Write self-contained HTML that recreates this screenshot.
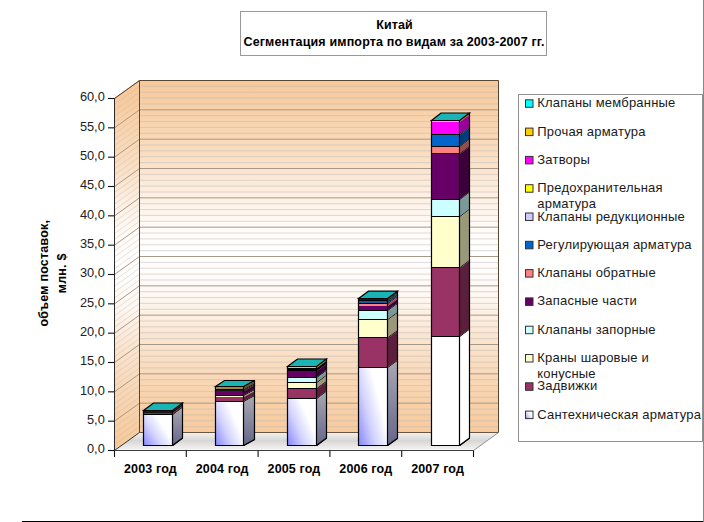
<!DOCTYPE html><html><head><meta charset="utf-8"><style>
html,body{margin:0;padding:0;background:#fff;width:704px;height:522px;overflow:hidden}
svg{display:block;font-family:"Liberation Sans",sans-serif}
</style></head><body>
<svg width="704" height="522" viewBox="0 0 704 522">
<defs>
<linearGradient id="wall" gradientUnits="userSpaceOnUse" x1="0" y1="80" x2="0" y2="432"><stop offset="0" stop-color="#F8C898"/><stop offset="0.2" stop-color="#FADCBE"/><stop offset="0.33" stop-color="#FDF0E4"/><stop offset="0.42" stop-color="#FFFBF7"/><stop offset="0.5" stop-color="#FFFFFF"/><stop offset="0.62" stop-color="#FEF7F0"/><stop offset="0.72" stop-color="#FBE6D2"/><stop offset="0.85" stop-color="#F9D7B6"/><stop offset="1" stop-color="#F8CA9A"/></linearGradient>
<linearGradient id="lwall" gradientUnits="userSpaceOnUse" x1="0" y1="89" x2="0" y2="441"><stop offset="0" stop-color="#F8C898"/><stop offset="0.2" stop-color="#FADCBE"/><stop offset="0.33" stop-color="#FDF0E4"/><stop offset="0.42" stop-color="#FFFBF7"/><stop offset="0.5" stop-color="#FFFFFF"/><stop offset="0.62" stop-color="#FEF7F0"/><stop offset="0.72" stop-color="#FBE6D2"/><stop offset="0.85" stop-color="#F9D7B6"/><stop offset="1" stop-color="#F8CA9A"/></linearGradient>
<linearGradient id="floor" gradientUnits="userSpaceOnUse" x1="0" y1="432" x2="0" y2="451"><stop offset="0" stop-color="#F4F4F4"/><stop offset="0.45" stop-color="#D8D6D4"/><stop offset="1" stop-color="#F8F8F8"/></linearGradient>
<linearGradient id="sfront" x1="0" y1="1" x2="0.9" y2="0.4"><stop offset="0" stop-color="#8484FF"/><stop offset="0.45" stop-color="#D2D2FF"/><stop offset="0.85" stop-color="#FFFFFF"/><stop offset="1" stop-color="#FFFFFF"/></linearGradient>
<linearGradient id="sside" x1="0" y1="0" x2="0" y2="1"><stop offset="0" stop-color="#A8A8B4"/><stop offset="1" stop-color="#66668A"/></linearGradient>
</defs>
<rect x="0" y="0" width="704" height="522" fill="#fff"/>
<rect x="240.5" y="11.5" width="306" height="44" fill="#fff" stroke="#989898" stroke-width="1"/>
<text x="394.5" y="28.7" text-anchor="middle" font-size="12.5" font-weight="bold" letter-spacing="0.1" fill="#000">Китай</text>
<text x="394" y="46.1" text-anchor="middle" font-size="12.5" font-weight="bold" letter-spacing="0.15" fill="#000">Сегментация импорта по видам за 2003-2007 гг.</text>
<polygon points="114.5,450.5 114.5,98.5 139.5,80.5 139.5,432.5" fill="url(#lwall)"/>
<rect x="139.5" y="80.5" width="359.0" height="352.0" fill="url(#wall)"/>
<polygon points="114.5,450.5 139.5,432.5 498.5,432.5 473.5,450.5" fill="url(#floor)"/>
<line x1="139.5" y1="426.63" x2="498.5" y2="426.63" stroke="rgba(185,185,185,0.5)" stroke-width="1"/><line x1="114.5" y1="444.63" x2="139.5" y2="426.63" stroke="rgba(185,185,185,0.4)" stroke-width="1"/><line x1="139.5" y1="420.77" x2="498.5" y2="420.77" stroke="rgba(185,185,185,0.5)" stroke-width="1"/><line x1="114.5" y1="438.77" x2="139.5" y2="420.77" stroke="rgba(185,185,185,0.4)" stroke-width="1"/><line x1="139.5" y1="414.90" x2="498.5" y2="414.90" stroke="rgba(185,185,185,0.5)" stroke-width="1"/><line x1="114.5" y1="432.90" x2="139.5" y2="414.90" stroke="rgba(185,185,185,0.4)" stroke-width="1"/><line x1="139.5" y1="409.03" x2="498.5" y2="409.03" stroke="rgba(185,185,185,0.5)" stroke-width="1"/><line x1="114.5" y1="427.03" x2="139.5" y2="409.03" stroke="rgba(185,185,185,0.4)" stroke-width="1"/><line x1="139.5" y1="403.17" x2="498.5" y2="403.17" stroke="#A89888" stroke-width="1"/><line x1="114.5" y1="421.17" x2="139.5" y2="403.17" stroke="#A89888" stroke-width="1"/><line x1="139.5" y1="397.30" x2="498.5" y2="397.30" stroke="rgba(185,185,185,0.5)" stroke-width="1"/><line x1="114.5" y1="415.30" x2="139.5" y2="397.30" stroke="rgba(185,185,185,0.4)" stroke-width="1"/><line x1="139.5" y1="391.43" x2="498.5" y2="391.43" stroke="rgba(185,185,185,0.5)" stroke-width="1"/><line x1="114.5" y1="409.43" x2="139.5" y2="391.43" stroke="rgba(185,185,185,0.4)" stroke-width="1"/><line x1="139.5" y1="385.57" x2="498.5" y2="385.57" stroke="rgba(185,185,185,0.5)" stroke-width="1"/><line x1="114.5" y1="403.57" x2="139.5" y2="385.57" stroke="rgba(185,185,185,0.4)" stroke-width="1"/><line x1="139.5" y1="379.70" x2="498.5" y2="379.70" stroke="rgba(185,185,185,0.5)" stroke-width="1"/><line x1="114.5" y1="397.70" x2="139.5" y2="379.70" stroke="rgba(185,185,185,0.4)" stroke-width="1"/><line x1="139.5" y1="373.83" x2="498.5" y2="373.83" stroke="#A89888" stroke-width="1"/><line x1="114.5" y1="391.83" x2="139.5" y2="373.83" stroke="#A89888" stroke-width="1"/><line x1="139.5" y1="367.97" x2="498.5" y2="367.97" stroke="rgba(185,185,185,0.5)" stroke-width="1"/><line x1="114.5" y1="385.97" x2="139.5" y2="367.97" stroke="rgba(185,185,185,0.4)" stroke-width="1"/><line x1="139.5" y1="362.10" x2="498.5" y2="362.10" stroke="rgba(185,185,185,0.5)" stroke-width="1"/><line x1="114.5" y1="380.10" x2="139.5" y2="362.10" stroke="rgba(185,185,185,0.4)" stroke-width="1"/><line x1="139.5" y1="356.23" x2="498.5" y2="356.23" stroke="rgba(185,185,185,0.5)" stroke-width="1"/><line x1="114.5" y1="374.23" x2="139.5" y2="356.23" stroke="rgba(185,185,185,0.4)" stroke-width="1"/><line x1="139.5" y1="350.37" x2="498.5" y2="350.37" stroke="rgba(185,185,185,0.5)" stroke-width="1"/><line x1="114.5" y1="368.37" x2="139.5" y2="350.37" stroke="rgba(185,185,185,0.4)" stroke-width="1"/><line x1="139.5" y1="344.50" x2="498.5" y2="344.50" stroke="#A89888" stroke-width="1"/><line x1="114.5" y1="362.50" x2="139.5" y2="344.50" stroke="#A89888" stroke-width="1"/><line x1="139.5" y1="338.63" x2="498.5" y2="338.63" stroke="rgba(185,185,185,0.5)" stroke-width="1"/><line x1="114.5" y1="356.63" x2="139.5" y2="338.63" stroke="rgba(185,185,185,0.4)" stroke-width="1"/><line x1="139.5" y1="332.77" x2="498.5" y2="332.77" stroke="rgba(185,185,185,0.5)" stroke-width="1"/><line x1="114.5" y1="350.77" x2="139.5" y2="332.77" stroke="rgba(185,185,185,0.4)" stroke-width="1"/><line x1="139.5" y1="326.90" x2="498.5" y2="326.90" stroke="rgba(185,185,185,0.5)" stroke-width="1"/><line x1="114.5" y1="344.90" x2="139.5" y2="326.90" stroke="rgba(185,185,185,0.4)" stroke-width="1"/><line x1="139.5" y1="321.03" x2="498.5" y2="321.03" stroke="rgba(185,185,185,0.5)" stroke-width="1"/><line x1="114.5" y1="339.03" x2="139.5" y2="321.03" stroke="rgba(185,185,185,0.4)" stroke-width="1"/><line x1="139.5" y1="315.17" x2="498.5" y2="315.17" stroke="#A89888" stroke-width="1"/><line x1="114.5" y1="333.17" x2="139.5" y2="315.17" stroke="#A89888" stroke-width="1"/><line x1="139.5" y1="309.30" x2="498.5" y2="309.30" stroke="rgba(185,185,185,0.5)" stroke-width="1"/><line x1="114.5" y1="327.30" x2="139.5" y2="309.30" stroke="rgba(185,185,185,0.4)" stroke-width="1"/><line x1="139.5" y1="303.43" x2="498.5" y2="303.43" stroke="rgba(185,185,185,0.5)" stroke-width="1"/><line x1="114.5" y1="321.43" x2="139.5" y2="303.43" stroke="rgba(185,185,185,0.4)" stroke-width="1"/><line x1="139.5" y1="297.57" x2="498.5" y2="297.57" stroke="rgba(185,185,185,0.5)" stroke-width="1"/><line x1="114.5" y1="315.57" x2="139.5" y2="297.57" stroke="rgba(185,185,185,0.4)" stroke-width="1"/><line x1="139.5" y1="291.70" x2="498.5" y2="291.70" stroke="rgba(185,185,185,0.5)" stroke-width="1"/><line x1="114.5" y1="309.70" x2="139.5" y2="291.70" stroke="rgba(185,185,185,0.4)" stroke-width="1"/><line x1="139.5" y1="285.83" x2="498.5" y2="285.83" stroke="#A89888" stroke-width="1"/><line x1="114.5" y1="303.83" x2="139.5" y2="285.83" stroke="#A89888" stroke-width="1"/><line x1="139.5" y1="279.97" x2="498.5" y2="279.97" stroke="rgba(185,185,185,0.5)" stroke-width="1"/><line x1="114.5" y1="297.97" x2="139.5" y2="279.97" stroke="rgba(185,185,185,0.4)" stroke-width="1"/><line x1="139.5" y1="274.10" x2="498.5" y2="274.10" stroke="rgba(185,185,185,0.5)" stroke-width="1"/><line x1="114.5" y1="292.10" x2="139.5" y2="274.10" stroke="rgba(185,185,185,0.4)" stroke-width="1"/><line x1="139.5" y1="268.23" x2="498.5" y2="268.23" stroke="rgba(185,185,185,0.5)" stroke-width="1"/><line x1="114.5" y1="286.23" x2="139.5" y2="268.23" stroke="rgba(185,185,185,0.4)" stroke-width="1"/><line x1="139.5" y1="262.37" x2="498.5" y2="262.37" stroke="rgba(185,185,185,0.5)" stroke-width="1"/><line x1="114.5" y1="280.37" x2="139.5" y2="262.37" stroke="rgba(185,185,185,0.4)" stroke-width="1"/><line x1="139.5" y1="256.50" x2="498.5" y2="256.50" stroke="#A89888" stroke-width="1"/><line x1="114.5" y1="274.50" x2="139.5" y2="256.50" stroke="#A89888" stroke-width="1"/><line x1="139.5" y1="250.63" x2="498.5" y2="250.63" stroke="rgba(185,185,185,0.5)" stroke-width="1"/><line x1="114.5" y1="268.63" x2="139.5" y2="250.63" stroke="rgba(185,185,185,0.4)" stroke-width="1"/><line x1="139.5" y1="244.77" x2="498.5" y2="244.77" stroke="rgba(185,185,185,0.5)" stroke-width="1"/><line x1="114.5" y1="262.77" x2="139.5" y2="244.77" stroke="rgba(185,185,185,0.4)" stroke-width="1"/><line x1="139.5" y1="238.90" x2="498.5" y2="238.90" stroke="rgba(185,185,185,0.5)" stroke-width="1"/><line x1="114.5" y1="256.90" x2="139.5" y2="238.90" stroke="rgba(185,185,185,0.4)" stroke-width="1"/><line x1="139.5" y1="233.03" x2="498.5" y2="233.03" stroke="rgba(185,185,185,0.5)" stroke-width="1"/><line x1="114.5" y1="251.03" x2="139.5" y2="233.03" stroke="rgba(185,185,185,0.4)" stroke-width="1"/><line x1="139.5" y1="227.17" x2="498.5" y2="227.17" stroke="#A89888" stroke-width="1"/><line x1="114.5" y1="245.17" x2="139.5" y2="227.17" stroke="#A89888" stroke-width="1"/><line x1="139.5" y1="221.30" x2="498.5" y2="221.30" stroke="rgba(185,185,185,0.5)" stroke-width="1"/><line x1="114.5" y1="239.30" x2="139.5" y2="221.30" stroke="rgba(185,185,185,0.4)" stroke-width="1"/><line x1="139.5" y1="215.43" x2="498.5" y2="215.43" stroke="rgba(185,185,185,0.5)" stroke-width="1"/><line x1="114.5" y1="233.43" x2="139.5" y2="215.43" stroke="rgba(185,185,185,0.4)" stroke-width="1"/><line x1="139.5" y1="209.57" x2="498.5" y2="209.57" stroke="rgba(185,185,185,0.5)" stroke-width="1"/><line x1="114.5" y1="227.57" x2="139.5" y2="209.57" stroke="rgba(185,185,185,0.4)" stroke-width="1"/><line x1="139.5" y1="203.70" x2="498.5" y2="203.70" stroke="rgba(185,185,185,0.5)" stroke-width="1"/><line x1="114.5" y1="221.70" x2="139.5" y2="203.70" stroke="rgba(185,185,185,0.4)" stroke-width="1"/><line x1="139.5" y1="197.83" x2="498.5" y2="197.83" stroke="#A89888" stroke-width="1"/><line x1="114.5" y1="215.83" x2="139.5" y2="197.83" stroke="#A89888" stroke-width="1"/><line x1="139.5" y1="191.97" x2="498.5" y2="191.97" stroke="rgba(185,185,185,0.5)" stroke-width="1"/><line x1="114.5" y1="209.97" x2="139.5" y2="191.97" stroke="rgba(185,185,185,0.4)" stroke-width="1"/><line x1="139.5" y1="186.10" x2="498.5" y2="186.10" stroke="rgba(185,185,185,0.5)" stroke-width="1"/><line x1="114.5" y1="204.10" x2="139.5" y2="186.10" stroke="rgba(185,185,185,0.4)" stroke-width="1"/><line x1="139.5" y1="180.23" x2="498.5" y2="180.23" stroke="rgba(185,185,185,0.5)" stroke-width="1"/><line x1="114.5" y1="198.23" x2="139.5" y2="180.23" stroke="rgba(185,185,185,0.4)" stroke-width="1"/><line x1="139.5" y1="174.37" x2="498.5" y2="174.37" stroke="rgba(185,185,185,0.5)" stroke-width="1"/><line x1="114.5" y1="192.37" x2="139.5" y2="174.37" stroke="rgba(185,185,185,0.4)" stroke-width="1"/><line x1="139.5" y1="168.50" x2="498.5" y2="168.50" stroke="#A89888" stroke-width="1"/><line x1="114.5" y1="186.50" x2="139.5" y2="168.50" stroke="#A89888" stroke-width="1"/><line x1="139.5" y1="162.63" x2="498.5" y2="162.63" stroke="rgba(185,185,185,0.5)" stroke-width="1"/><line x1="114.5" y1="180.63" x2="139.5" y2="162.63" stroke="rgba(185,185,185,0.4)" stroke-width="1"/><line x1="139.5" y1="156.77" x2="498.5" y2="156.77" stroke="rgba(185,185,185,0.5)" stroke-width="1"/><line x1="114.5" y1="174.77" x2="139.5" y2="156.77" stroke="rgba(185,185,185,0.4)" stroke-width="1"/><line x1="139.5" y1="150.90" x2="498.5" y2="150.90" stroke="rgba(185,185,185,0.5)" stroke-width="1"/><line x1="114.5" y1="168.90" x2="139.5" y2="150.90" stroke="rgba(185,185,185,0.4)" stroke-width="1"/><line x1="139.5" y1="145.03" x2="498.5" y2="145.03" stroke="rgba(185,185,185,0.5)" stroke-width="1"/><line x1="114.5" y1="163.03" x2="139.5" y2="145.03" stroke="rgba(185,185,185,0.4)" stroke-width="1"/><line x1="139.5" y1="139.17" x2="498.5" y2="139.17" stroke="#A89888" stroke-width="1"/><line x1="114.5" y1="157.17" x2="139.5" y2="139.17" stroke="#A89888" stroke-width="1"/><line x1="139.5" y1="133.30" x2="498.5" y2="133.30" stroke="rgba(185,185,185,0.5)" stroke-width="1"/><line x1="114.5" y1="151.30" x2="139.5" y2="133.30" stroke="rgba(185,185,185,0.4)" stroke-width="1"/><line x1="139.5" y1="127.43" x2="498.5" y2="127.43" stroke="rgba(185,185,185,0.5)" stroke-width="1"/><line x1="114.5" y1="145.43" x2="139.5" y2="127.43" stroke="rgba(185,185,185,0.4)" stroke-width="1"/><line x1="139.5" y1="121.57" x2="498.5" y2="121.57" stroke="rgba(185,185,185,0.5)" stroke-width="1"/><line x1="114.5" y1="139.57" x2="139.5" y2="121.57" stroke="rgba(185,185,185,0.4)" stroke-width="1"/><line x1="139.5" y1="115.70" x2="498.5" y2="115.70" stroke="rgba(185,185,185,0.5)" stroke-width="1"/><line x1="114.5" y1="133.70" x2="139.5" y2="115.70" stroke="rgba(185,185,185,0.4)" stroke-width="1"/><line x1="139.5" y1="109.83" x2="498.5" y2="109.83" stroke="#A89888" stroke-width="1"/><line x1="114.5" y1="127.83" x2="139.5" y2="109.83" stroke="#A89888" stroke-width="1"/><line x1="139.5" y1="103.97" x2="498.5" y2="103.97" stroke="rgba(185,185,185,0.5)" stroke-width="1"/><line x1="114.5" y1="121.97" x2="139.5" y2="103.97" stroke="rgba(185,185,185,0.4)" stroke-width="1"/><line x1="139.5" y1="98.10" x2="498.5" y2="98.10" stroke="rgba(185,185,185,0.5)" stroke-width="1"/><line x1="114.5" y1="116.10" x2="139.5" y2="98.10" stroke="rgba(185,185,185,0.4)" stroke-width="1"/><line x1="139.5" y1="92.23" x2="498.5" y2="92.23" stroke="rgba(185,185,185,0.5)" stroke-width="1"/><line x1="114.5" y1="110.23" x2="139.5" y2="92.23" stroke="rgba(185,185,185,0.4)" stroke-width="1"/><line x1="139.5" y1="86.37" x2="498.5" y2="86.37" stroke="rgba(185,185,185,0.5)" stroke-width="1"/><line x1="114.5" y1="104.37" x2="139.5" y2="86.37" stroke="rgba(185,185,185,0.4)" stroke-width="1"/><line x1="139.5" y1="80.50" x2="498.5" y2="80.50" stroke="#A89888" stroke-width="1"/><line x1="114.5" y1="98.50" x2="139.5" y2="80.50" stroke="#A89888" stroke-width="1"/>
<polyline points="114.5,450.5 114.5,98.5 139.5,80.5 498.5,80.5 498.5,432.5" fill="none" stroke="#5A4634" stroke-width="1"/>
<line x1="139.5" y1="80.5" x2="139.5" y2="432.5" stroke="#5A4634" stroke-width="1"/>
<line x1="139.5" y1="432.5" x2="498.5" y2="432.5" stroke="#6A5644" stroke-width="1"/>
<line x1="114.5" y1="450.5" x2="139.5" y2="432.5" stroke="#333" stroke-width="1"/>
<line x1="498.5" y1="432.5" x2="473.5" y2="450.5" stroke="#909090" stroke-width="1"/>
<line x1="114.5" y1="450.5" x2="473.5" y2="450.5" stroke="#404040" stroke-width="1"/>
<line x1="114.5" y1="98.5" x2="114.5" y2="450.5" stroke="#2A2A2A" stroke-width="1"/>
<line x1="108" y1="450.50" x2="114.5" y2="450.50" stroke="#111" stroke-width="1.1"/><text x="104.8" y="453.40" text-anchor="end" font-size="12.8" letter-spacing="0" fill="#222">0,0</text><line x1="108" y1="421.17" x2="114.5" y2="421.17" stroke="#111" stroke-width="1.1"/><text x="104.8" y="424.07" text-anchor="end" font-size="12.8" letter-spacing="0" fill="#222">5,0</text><line x1="108" y1="391.83" x2="114.5" y2="391.83" stroke="#111" stroke-width="1.1"/><text x="104.8" y="394.73" text-anchor="end" font-size="12.8" letter-spacing="0" fill="#222">10,0</text><line x1="108" y1="362.50" x2="114.5" y2="362.50" stroke="#111" stroke-width="1.1"/><text x="104.8" y="365.40" text-anchor="end" font-size="12.8" letter-spacing="0" fill="#222">15,0</text><line x1="108" y1="333.17" x2="114.5" y2="333.17" stroke="#111" stroke-width="1.1"/><text x="104.8" y="336.07" text-anchor="end" font-size="12.8" letter-spacing="0" fill="#222">20,0</text><line x1="108" y1="303.83" x2="114.5" y2="303.83" stroke="#111" stroke-width="1.1"/><text x="104.8" y="306.73" text-anchor="end" font-size="12.8" letter-spacing="0" fill="#222">25,0</text><line x1="108" y1="274.50" x2="114.5" y2="274.50" stroke="#111" stroke-width="1.1"/><text x="104.8" y="277.40" text-anchor="end" font-size="12.8" letter-spacing="0" fill="#222">30,0</text><line x1="108" y1="245.17" x2="114.5" y2="245.17" stroke="#111" stroke-width="1.1"/><text x="104.8" y="248.07" text-anchor="end" font-size="12.8" letter-spacing="0" fill="#222">35,0</text><line x1="108" y1="215.83" x2="114.5" y2="215.83" stroke="#111" stroke-width="1.1"/><text x="104.8" y="218.73" text-anchor="end" font-size="12.8" letter-spacing="0" fill="#222">40,0</text><line x1="108" y1="186.50" x2="114.5" y2="186.50" stroke="#111" stroke-width="1.1"/><text x="104.8" y="189.40" text-anchor="end" font-size="12.8" letter-spacing="0" fill="#222">45,0</text><line x1="108" y1="157.17" x2="114.5" y2="157.17" stroke="#111" stroke-width="1.1"/><text x="104.8" y="160.07" text-anchor="end" font-size="12.8" letter-spacing="0" fill="#222">50,0</text><line x1="108" y1="127.83" x2="114.5" y2="127.83" stroke="#111" stroke-width="1.1"/><text x="104.8" y="130.73" text-anchor="end" font-size="12.8" letter-spacing="0" fill="#222">55,0</text><line x1="108" y1="98.50" x2="114.5" y2="98.50" stroke="#111" stroke-width="1.1"/><text x="104.8" y="101.40" text-anchor="end" font-size="12.8" letter-spacing="0" fill="#222">60,0</text>
<line x1="114.50" y1="450.5" x2="114.50" y2="457" stroke="#111" stroke-width="1.1"/>
<line x1="186.30" y1="450.5" x2="186.30" y2="457" stroke="#111" stroke-width="1.1"/>
<line x1="258.10" y1="450.5" x2="258.10" y2="457" stroke="#111" stroke-width="1.1"/>
<line x1="329.90" y1="450.5" x2="329.90" y2="457" stroke="#111" stroke-width="1.1"/>
<line x1="401.70" y1="450.5" x2="401.70" y2="457" stroke="#111" stroke-width="1.1"/>
<line x1="473.50" y1="450.5" x2="473.50" y2="457" stroke="#111" stroke-width="1.1"/>
<text x="150.40" y="472.7" text-anchor="middle" font-size="12.5" font-weight="bold" letter-spacing="0.15" fill="#000">2003 год</text>
<text x="222.20" y="472.7" text-anchor="middle" font-size="12.5" font-weight="bold" letter-spacing="0.15" fill="#000">2004 год</text>
<text x="294.00" y="472.7" text-anchor="middle" font-size="12.5" font-weight="bold" letter-spacing="0.15" fill="#000">2005 год</text>
<text x="365.80" y="472.7" text-anchor="middle" font-size="12.5" font-weight="bold" letter-spacing="0.15" fill="#000">2006 год</text>
<text x="437.60" y="472.7" text-anchor="middle" font-size="12.5" font-weight="bold" letter-spacing="0.15" fill="#000">2007 год</text>
<rect x="143" y="410" width="30" height="1" fill="#000000"/><polygon points="173,410 183,402.5 183,403.5 173,411" fill="#000000"/><rect x="143" y="411" width="30" height="2" fill="#1A1A1A"/><polygon points="173,411 183,403.5 183,405.5 173,413" fill="#0F0F0F"/><rect x="143" y="413" width="30" height="1" fill="#7A2850"/><polygon points="173,413 183,405.5 183,406.5 173,414" fill="#491830"/><rect x="143" y="414" width="30" height="1" fill="#000000"/><polygon points="173,414 183,406.5 183,407.5 173,415" fill="#000000"/><rect x="143" y="415" width="30" height="30" fill="url(#sfront)"/><polygon points="173,415 183,407.5 183,437.5 173,445" fill="url(#sside)"/><rect x="143" y="445" width="30" height="1" fill="#000000"/><polygon points="173,445 183,437.5 183,438.5 173,446" fill="#000000"/><polygon points="143.5,410.5 153.5,403.0 182.5,403.0 172.5,410.5" fill="#1AB4B4" stroke="#000" stroke-width="1.2" stroke-linejoin="miter"/><path d="M143.5,410 V446 M172.5,410 V446 M182.5,402.5 V438.0 L172.5,445.5" fill="none" stroke="#000" stroke-width="1.2"/>
<rect x="215" y="386" width="29" height="1" fill="#000000"/><polygon points="244,386 255,380.0 255,381.0 244,387" fill="#000000"/><rect x="215" y="387" width="29" height="2" fill="#A08C38"/><polygon points="244,387 255,381.0 255,383.0 244,389" fill="#605421"/><rect x="215" y="389" width="29" height="1" fill="#000000"/><polygon points="244,389 255,383.0 255,384.0 244,390" fill="#000000"/><rect x="215" y="390" width="29" height="1" fill="#1A1A1A"/><polygon points="244,390 255,384.0 255,385.0 244,391" fill="#0F0F0F"/><rect x="215" y="391" width="29" height="4" fill="#660066"/><polygon points="244,391 255,385.0 255,389.0 244,395" fill="#3D003D"/><rect x="215" y="395" width="29" height="1" fill="#000000"/><polygon points="244,395 255,389.0 255,390.0 244,396" fill="#000000"/><rect x="215" y="396" width="29" height="1" fill="#FFFFCC"/><polygon points="244,396 255,390.0 255,391.0 244,397" fill="#99997A"/><rect x="215" y="397" width="29" height="4" fill="#993366"/><polygon points="244,397 255,391.0 255,395.0 244,401" fill="#5B1E3D"/><rect x="215" y="401" width="29" height="1" fill="#000000"/><polygon points="244,401 255,395.0 255,396.0 244,402" fill="#000000"/><rect x="215" y="402" width="29" height="43" fill="url(#sfront)"/><polygon points="244,402 255,396.0 255,439.0 244,445" fill="url(#sside)"/><rect x="215" y="445" width="29" height="1" fill="#000000"/><polygon points="244,445 255,439.0 255,440.0 244,446" fill="#000000"/><polygon points="215.5,386.5 224.5,380.5 254.5,380.5 243.5,386.5" fill="#1AB4B4" stroke="#000" stroke-width="1.2" stroke-linejoin="miter"/><path d="M215.5,386 V446 M243.5,386 V446 M254.5,380.0 V439.5 L243.5,445.5" fill="none" stroke="#000" stroke-width="1.2"/>
<rect x="287" y="366" width="30" height="1" fill="#000000"/><polygon points="317,366 327,358.5 327,359.5 317,367" fill="#000000"/><rect x="287" y="367" width="30" height="1" fill="#FFCC00"/><polygon points="317,367 327,359.5 327,360.5 317,368" fill="#997A00"/><rect x="287" y="368" width="30" height="3" fill="#000000"/><polygon points="317,368 327,360.5 327,363.5 317,371" fill="#000000"/><rect x="287" y="371" width="30" height="6" fill="#660066"/><polygon points="317,371 327,363.5 327,369.5 317,377" fill="#3D003D"/><rect x="287" y="377" width="30" height="1" fill="#000000"/><polygon points="317,377 327,369.5 327,370.5 317,378" fill="#000000"/><rect x="287" y="378" width="30" height="4" fill="#CCFFFF"/><polygon points="317,378 327,370.5 327,374.5 317,382" fill="#7A9999"/><rect x="287" y="382" width="30" height="1" fill="#000000"/><polygon points="317,382 327,374.5 327,375.5 317,383" fill="#000000"/><rect x="287" y="383" width="30" height="5" fill="#FFFFCC"/><polygon points="317,383 327,375.5 327,380.5 317,388" fill="#99997A"/><rect x="287" y="388" width="30" height="1" fill="#000000"/><polygon points="317,388 327,380.5 327,381.5 317,389" fill="#000000"/><rect x="287" y="389" width="30" height="9" fill="#993366"/><polygon points="317,389 327,381.5 327,390.5 317,398" fill="#5B1E3D"/><rect x="287" y="398" width="30" height="1" fill="#000000"/><polygon points="317,398 327,390.5 327,391.5 317,399" fill="#000000"/><rect x="287" y="399" width="30" height="46" fill="url(#sfront)"/><polygon points="317,399 327,391.5 327,437.5 317,445" fill="url(#sside)"/><rect x="287" y="445" width="30" height="1" fill="#000000"/><polygon points="317,445 327,437.5 327,438.5 317,446" fill="#000000"/><polygon points="287.5,366.5 297.5,359.0 326.5,359.0 316.5,366.5" fill="#1AB4B4" stroke="#000" stroke-width="1.2" stroke-linejoin="miter"/><path d="M287.5,366 V446 M316.5,366 V446 M326.5,358.5 V438.0 L316.5,445.5" fill="none" stroke="#000" stroke-width="1.2"/>
<rect x="358" y="298" width="30" height="1" fill="#000000"/><polygon points="388,298 398,290.7 398,291.7 388,299" fill="#000000"/><rect x="358" y="299" width="30" height="1" fill="#1A1A1A"/><polygon points="388,299 398,291.7 398,292.7 388,300" fill="#0F0F0F"/><rect x="358" y="300" width="30" height="1" fill="#000000"/><polygon points="388,300 398,292.7 398,293.7 388,301" fill="#000000"/><rect x="358" y="301" width="30" height="2" fill="#1A559E"/><polygon points="388,301 398,293.7 398,295.7 388,303" fill="#0F335E"/><rect x="358" y="303" width="30" height="1" fill="#000000"/><polygon points="388,303 398,295.7 398,296.7 388,304" fill="#000000"/><rect x="358" y="304" width="30" height="2" fill="#FF8080"/><polygon points="388,304 398,296.7 398,298.7 388,306" fill="#994C4C"/><rect x="358" y="306" width="30" height="4" fill="#660066"/><polygon points="388,306 398,298.7 398,302.7 388,310" fill="#3D003D"/><rect x="358" y="310" width="30" height="1" fill="#000000"/><polygon points="388,310 398,302.7 398,303.7 388,311" fill="#000000"/><rect x="358" y="311" width="30" height="8" fill="#CCFFFF"/><polygon points="388,311 398,303.7 398,311.7 388,319" fill="#7A9999"/><rect x="358" y="319" width="30" height="1" fill="#000000"/><polygon points="388,319 398,311.7 398,312.7 388,320" fill="#000000"/><rect x="358" y="320" width="30" height="17" fill="#FFFFCC"/><polygon points="388,320 398,312.7 398,329.7 388,337" fill="#99997A"/><rect x="358" y="337" width="30" height="1" fill="#000000"/><polygon points="388,337 398,329.7 398,330.7 388,338" fill="#000000"/><rect x="358" y="338" width="30" height="29" fill="#993366"/><polygon points="388,338 398,330.7 398,359.7 388,367" fill="#5B1E3D"/><rect x="358" y="367" width="30" height="1" fill="#000000"/><polygon points="388,367 398,359.7 398,360.7 388,368" fill="#000000"/><rect x="358" y="368" width="30" height="77" fill="url(#sfront)"/><polygon points="388,368 398,360.7 398,437.7 388,445" fill="url(#sside)"/><rect x="358" y="445" width="30" height="1" fill="#000000"/><polygon points="388,445 398,437.7 398,438.7 388,446" fill="#000000"/><polygon points="358.5,298.5 368.5,291.2 397.5,291.2 387.5,298.5" fill="#1AB4B4" stroke="#000" stroke-width="1.2" stroke-linejoin="miter"/><path d="M358.5,298 V446 M387.5,298 V446 M397.5,290.7 V438.2 L387.5,445.5" fill="none" stroke="#000" stroke-width="1.2"/>
<rect x="431" y="120" width="29" height="1" fill="#000000"/><polygon points="460,120 470,112.5 470,113.5 460,121" fill="#000000"/><rect x="431" y="121" width="29" height="1" fill="#FFCC00"/><polygon points="460,121 470,113.5 470,114.5 460,122" fill="#997A00"/><rect x="431" y="122" width="29" height="12" fill="#FF00FF"/><polygon points="460,122 470,114.5 470,126.5 460,134" fill="#990099"/><rect x="431" y="134" width="29" height="1" fill="#000000"/><polygon points="460,134 470,126.5 470,127.5 460,135" fill="#000000"/><rect x="431" y="135" width="29" height="11" fill="#0066CC"/><polygon points="460,135 470,127.5 470,138.5 460,146" fill="#003D7A"/><rect x="431" y="146" width="29" height="1" fill="#000000"/><polygon points="460,146 470,138.5 470,139.5 460,147" fill="#000000"/><rect x="431" y="147" width="29" height="6" fill="#FF8080"/><polygon points="460,147 470,139.5 470,145.5 460,153" fill="#994C4C"/><rect x="431" y="153" width="29" height="1" fill="#000000"/><polygon points="460,153 470,145.5 470,146.5 460,154" fill="#000000"/><rect x="431" y="154" width="29" height="45" fill="#660066"/><polygon points="460,154 470,146.5 470,191.5 460,199" fill="#3D003D"/><rect x="431" y="199" width="29" height="1" fill="#000000"/><polygon points="460,199 470,191.5 470,192.5 460,200" fill="#000000"/><rect x="431" y="200" width="29" height="16" fill="#CCFFFF"/><polygon points="460,200 470,192.5 470,208.5 460,216" fill="#7A9999"/><rect x="431" y="216" width="29" height="1" fill="#000000"/><polygon points="460,216 470,208.5 470,209.5 460,217" fill="#000000"/><rect x="431" y="217" width="29" height="50" fill="#FFFFCC"/><polygon points="460,217 470,209.5 470,259.5 460,267" fill="#99997A"/><rect x="431" y="267" width="29" height="1" fill="#000000"/><polygon points="460,267 470,259.5 470,260.5 460,268" fill="#000000"/><rect x="431" y="268" width="29" height="68" fill="#993366"/><polygon points="460,268 470,260.5 470,328.5 460,336" fill="#5B1E3D"/><rect x="431" y="336" width="29" height="1" fill="#000000"/><polygon points="460,336 470,328.5 470,329.5 460,337" fill="#000000"/><rect x="431" y="337" width="29" height="108" fill="#FFFFFF"/><polygon points="460,337 470,329.5 470,437.5 460,445" fill="#FFFFFF"/><rect x="431" y="445" width="29" height="1" fill="#000000"/><polygon points="460,445 470,437.5 470,438.5 460,446" fill="#000000"/><polygon points="431.5,120.5 441.0,113.0 469.5,113.0 459.5,120.5" fill="#1AB4B4" stroke="#000" stroke-width="1.2" stroke-linejoin="miter"/><path d="M431.5,120 V446 M459.5,120 V446 M469.5,112.5 V438.0 L459.5,445.5" fill="none" stroke="#000" stroke-width="1.2"/>
<rect x="518.5" y="94.5" width="184" height="347" fill="#fff" stroke="#909090" stroke-width="1"/>
<rect x="525.5" y="99.80" width="7.5" height="7.5" fill="#00FFFF" stroke="#333" stroke-width="1"/><text x="537.3" y="107.30" font-size="13" letter-spacing="0.2" fill="#1a1a1a">Клапаны мембранные</text><rect x="525.5" y="128.10" width="7.5" height="7.5" fill="#FFCC00" stroke="#333" stroke-width="1"/><text x="537.3" y="135.60" font-size="13" letter-spacing="0.2" fill="#1a1a1a">Прочая арматура</text><rect x="525.5" y="156.40" width="7.5" height="7.5" fill="#FF00FF" stroke="#333" stroke-width="1"/><text x="537.3" y="163.90" font-size="13" letter-spacing="0.2" fill="#1a1a1a">Затворы</text><rect x="525.5" y="184.70" width="7.5" height="7.5" fill="#FFFF00" stroke="#333" stroke-width="1"/><text x="537.3" y="192.20" font-size="13" letter-spacing="0.2" fill="#1a1a1a">Предохранительная</text><text x="537.3" y="208.20" font-size="13" letter-spacing="0.2" fill="#1a1a1a">арматура</text><rect x="525.5" y="213.00" width="7.5" height="7.5" fill="#CCCCFF" stroke="#333" stroke-width="1"/><text x="537.3" y="220.50" font-size="13" letter-spacing="0.2" fill="#1a1a1a">Клапаны редукционные</text><rect x="525.5" y="241.30" width="7.5" height="7.5" fill="#0066CC" stroke="#333" stroke-width="1"/><text x="537.3" y="248.80" font-size="13" letter-spacing="0.2" fill="#1a1a1a">Регулирующая арматура</text><rect x="525.5" y="269.60" width="7.5" height="7.5" fill="#FF8080" stroke="#333" stroke-width="1"/><text x="537.3" y="277.10" font-size="13" letter-spacing="0.2" fill="#1a1a1a">Клапаны обратные</text><rect x="525.5" y="297.90" width="7.5" height="7.5" fill="#660066" stroke="#333" stroke-width="1"/><text x="537.3" y="305.40" font-size="13" letter-spacing="0.2" fill="#1a1a1a">Запасные части</text><rect x="525.5" y="326.20" width="7.5" height="7.5" fill="#CCFFFF" stroke="#333" stroke-width="1"/><text x="537.3" y="333.70" font-size="13" letter-spacing="0.2" fill="#1a1a1a">Клапаны запорные</text><rect x="525.5" y="354.50" width="7.5" height="7.5" fill="#FFFFCC" stroke="#333" stroke-width="1"/><text x="537.3" y="362.00" font-size="13" letter-spacing="0.2" fill="#1a1a1a">Краны шаровые и</text><text x="537.3" y="378.00" font-size="13" letter-spacing="0.2" fill="#1a1a1a">конусные</text><rect x="525.5" y="382.80" width="7.5" height="7.5" fill="#993366" stroke="#333" stroke-width="1"/><text x="537.3" y="390.30" font-size="13" letter-spacing="0.2" fill="#1a1a1a">Задвижки</text><rect x="525.5" y="411.10" width="7.5" height="7.5" fill="url(#sfront)" stroke="#333" stroke-width="1"/><text x="537.3" y="418.60" font-size="13" letter-spacing="0.2" fill="#1a1a1a">Сантехническая арматура</text>
<text transform="translate(48.2,273.2) rotate(-90)" text-anchor="middle" font-size="12.5" font-weight="bold" letter-spacing="0.2" fill="#000">объем поставок,</text>
<text transform="translate(66,273.3) rotate(-90)" text-anchor="middle" font-size="12.5" font-weight="bold" letter-spacing="0.2" fill="#000">млн. $</text>
<line x1="22" y1="521.5" x2="704" y2="521.5" stroke="#000" stroke-width="1"/>
<line x1="703.5" y1="0" x2="703.5" y2="522" stroke="#888" stroke-width="1"/>
</svg></body></html>
